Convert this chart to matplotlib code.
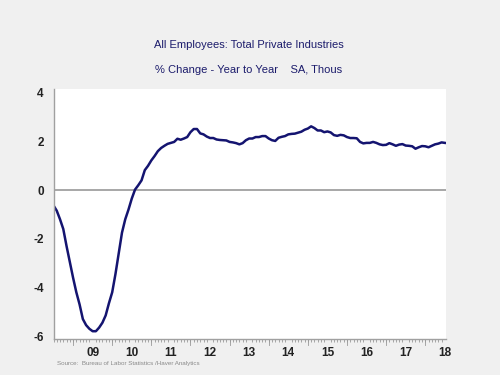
import matplotlib
matplotlib.use("Agg")
import matplotlib.pyplot as plt
import numpy as np

plt.rcParams['font.family'] = ['Liberation Sans', 'DejaVu Sans']

# monthly % change y/y, Jul 2008 .. Jul 2018
start_year = 2008.5
pct_change = [
    -0.63, -0.85, -1.20, -1.60, -2.30, -2.95, -3.60, -4.20, -4.70, -5.30,
    -5.55, -5.70, -5.80, -5.80, -5.65, -5.45, -5.15, -4.65, -4.20, -3.45,
    -2.60, -1.75, -1.20, -0.80, -0.35, 0.02, 0.20, 0.40, 0.82, 1.00,
    1.22, 1.40, 1.60, 1.73, 1.82, 1.90, 1.94, 1.98, 2.11, 2.07,
    2.12, 2.18, 2.38, 2.51, 2.51, 2.33, 2.29, 2.20, 2.14, 2.14,
    2.08, 2.06, 2.05, 2.04, 1.98, 1.96, 1.93, 1.88, 1.93, 2.05,
    2.12, 2.12, 2.18, 2.18, 2.22, 2.22, 2.12, 2.05, 2.02, 2.15,
    2.19, 2.22, 2.29, 2.31, 2.32, 2.36, 2.40, 2.48, 2.53, 2.62,
    2.55, 2.45, 2.45, 2.38, 2.41, 2.37, 2.26, 2.23, 2.27, 2.25,
    2.18, 2.14, 2.14, 2.13, 1.98, 1.92, 1.94, 1.94, 1.98, 1.94,
    1.88, 1.85, 1.86, 1.93, 1.88, 1.82, 1.87, 1.89, 1.83, 1.82,
    1.80, 1.70, 1.76, 1.81, 1.80, 1.76, 1.82, 1.88, 1.91, 1.96,
    1.94,
]
year_labels = ['09', '10', '11', '12', '13', '14', '15', '16', '17', '18']
y_ticks = [4, 2, 0, -2, -4, -6]

x = start_year + np.arange(len(pct_change)) / 12.0

fig = plt.figure(figsize=(5, 3.75), dpi=100, facecolor='#f0f0f0')
ax = fig.add_axes([0.107, 0.096, 0.785, 0.667])
ax.set_facecolor('white')

ax.axhline(0, color='#a0a0a0', lw=1.3, zorder=1)
ax.plot(x, pct_change, color='#141470', lw=1.8, zorder=2)

ax.set_xlim(2008.5, 2018.53)
ax.set_ylim(-6.12, 4.16)

for s in ['top', 'right']:
    ax.spines[s].set_visible(False)
for s in ['left', 'bottom']:
    ax.spines[s].set_color('#a0a0a0')
    ax.spines[s].set_linewidth(1.0)

ax.set_yticks(y_ticks)
ax.set_yticklabels([str(v) for v in y_ticks])
ax.tick_params(axis='y', length=0, pad=7, labelsize=8.5, labelcolor='#222222')

# year labels centred in the year, long ticks at year boundaries, monthly minor ticks
mid_years = [2009.5 + i for i in range(len(year_labels))]
ax.set_xticks(mid_years)
ax.set_xticklabels(year_labels)
ax.tick_params(axis='x', length=0, pad=6, labelsize=8.5, labelcolor='#222222')
months = np.arange(2008.5, 2018.51, 1 / 12.0)
ax.set_xticks(months, minor=True)
ax.tick_params(axis='x', which='minor', length=2.5, width=0.6, color='#999999')
for yr in range(2009, 2019):
    ax.plot([yr, yr], [0, -0.022], transform=ax.get_xaxis_transform(),
            color='#999999', lw=0.6, clip_on=False)

for lab in ax.get_xticklabels() + ax.get_yticklabels():
    lab.set_fontweight('bold')

fig.text(0.497, 0.88, 'All Employees: Total Private Industries',
         ha='center', va='center', fontsize=8, color='#1c1c6c')
fig.text(0.497, 0.813, '% Change - Year to Year    SA, Thous',
         ha='center', va='center', fontsize=8, color='#1c1c6c')
fig.text(0.114, 0.031, 'Source:  Bureau of Labor Statistics /Haver Analytics',
         ha='left', va='center', fontsize=4.5, color='#8a8a8a')

fig.savefig('out.png', dpi=100, facecolor=fig.get_facecolor())
